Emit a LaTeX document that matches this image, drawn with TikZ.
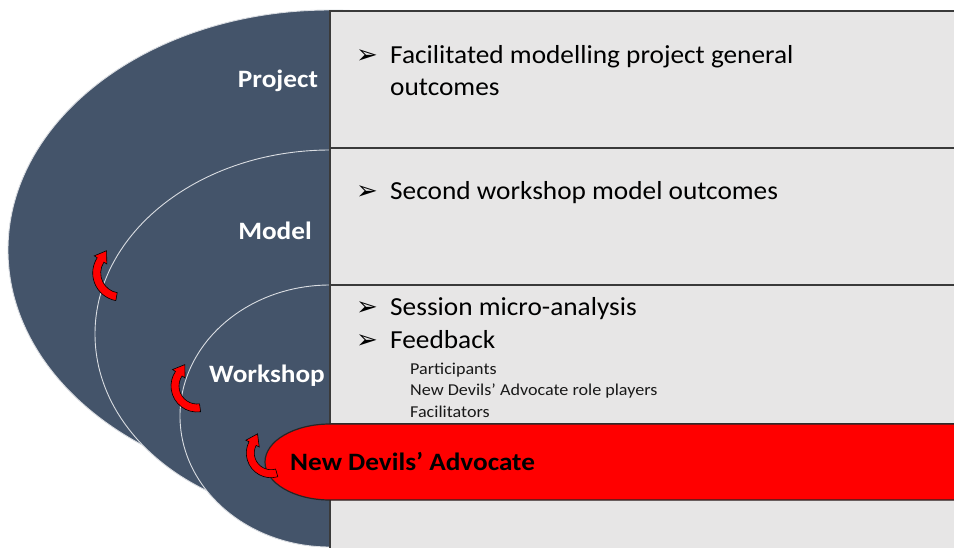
\documentclass[tikz,border=0pt]{standalone}
\usepackage{fontspec}
\setmainfont{Carlito}
\newfontfamily\dejavu{DejaVu Sans}
\usetikzlibrary{calc}
\definecolor{slate}{HTML}{44546A}
\definecolor{panelgray}{HTML}{E7E6E6}
\definecolor{edgegray}{HTML}{3A3A3A}
\definecolor{ringline}{HTML}{DADDE2}
\newcommand{\cArrow}[5]{%
  \filldraw[arrowshape] ($(#1,#2)+({#4}:{#3+4})$) arc[start angle=#4, end angle=#5, radius=#3+4]
   -- ($(#1,#2)+({#5}:{#3+7.5})$)
   -- ($(#1,#2)+({#5}:{#3})+({#5+90}:11)$)
   -- ($(#1,#2)+({#5}:{#3-7.5})$)
   -- ($(#1,#2)+({#5}:{#3-4})$)
   arc[start angle=#5, end angle=#4, radius=#3-4] -- cycle;}
\begin{document}
\begin{tikzpicture}[x=1pt,y=-1pt,
  ring/.style={fill=slate, draw=ringline, line width=0.9pt},
  rowbox/.style={fill=panelgray, draw=edgegray, line width=1.1pt},
  band/.style={fill=red, draw=black!85, line width=1.2pt},
  arrowshape/.style={fill=red, draw=black, line width=0.6pt},
  lbl/.style={text=white, font=\bfseries\fontsize{25}{30}\selectfont, xscale=1.09, anchor=base, inner sep=0pt},
  maintxt/.style={text=black, font=\fontsize{26}{32}\selectfont, xscale=1.05, anchor=base west, inner sep=0pt},
  subtxt/.style={text=black!90, font=\fontsize{16.6}{20}\selectfont, xscale=1.09, anchor=base west, inner sep=0pt},
  bul/.style={text=black, font=\dejavu\fontsize{26}{30}\selectfont, anchor=base west, inner sep=0pt}]
\useasboundingbox (0,0) rectangle (954,547);
\clip (0,0) rectangle (954,547);
\fill[white] (0,0) rectangle (954,547);
% nested half-ellipses
\filldraw[ring] (330,250) ellipse[x radius=322, y radius=240];
\filldraw[ring] (330,334) ellipse[x radius=235, y radius=184];
\filldraw[ring] (330,416) ellipse[x radius=150, y radius=131];
% right panel
\draw[rowbox] (330,11) rectangle (980,148);
\draw[rowbox] (330,148) rectangle (980,285);
\draw[rowbox] (330,285) rectangle (980,424);
\draw[rowbox] (330,424) rectangle (980,560);
% red band
\draw[band] (980,424) -- (330,424) arc[start angle=270, end angle=90, x radius=65, y radius=38] -- (980,500) -- cycle;
% labels
\node[lbl] (lproject) at (278,87) {Project};
\node[lbl] (lmodel) at (275,239) {Model};
\node[lbl] (lworkshop) at (267,382) {Workshop};
\node[lbl, text=black, anchor=base west] (lnda) at (290,470) {New Devils’ Advocate};
% panel texts
\node[bul] (b1) at (356,63) {➢};
\node[maintxt] (t1) at (390,63) {Facilitated modelling project general};
\node[maintxt] (t1b) at (390,95) {outcomes};
\node[bul] (b2) at (356,199) {➢};
\node[maintxt] (t2) at (390,199) {Second workshop model outcomes};
\node[bul] (b3) at (356,315) {➢};
\node[maintxt] (t3) at (390,315) {Session micro-analysis};
\node[bul] (b4) at (356,348) {➢};
\node[maintxt] (t4) at (390,348) {Feedback};
\node[subtxt] (s1) at (410,374) {Participants};
\node[subtxt] (s2) at (410,395) {New Devils’ Advocate role players};
\node[subtxt] (s3) at (410,417) {Facilitators};
% curved red arrows
\cArrow{120.7}{273}{24}{100}{213}
\cArrow{197}{386}{22}{82}{214}
\cArrow{271}{453}{20.7}{74}{207}
\end{tikzpicture}
\end{document}
